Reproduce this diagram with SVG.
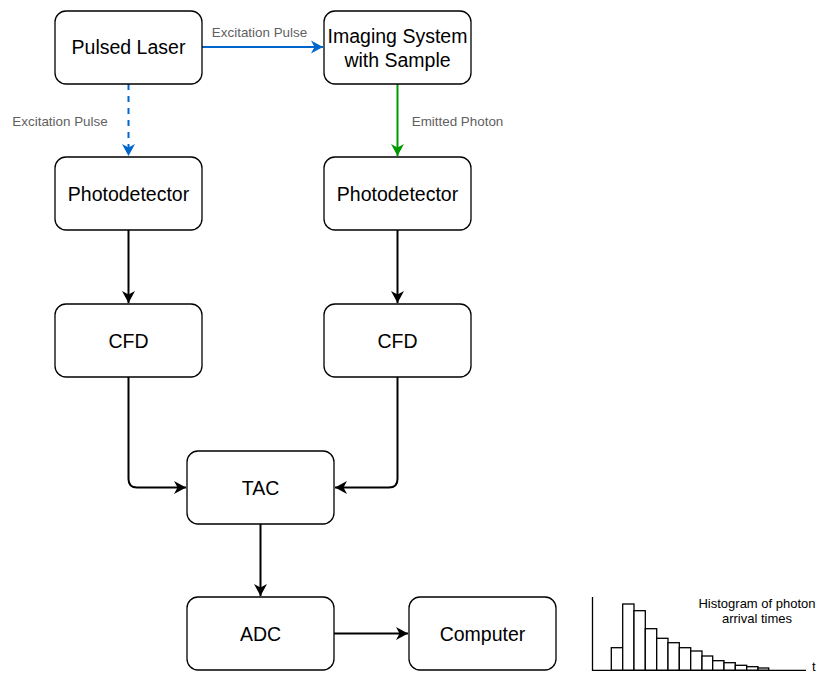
<svg xmlns="http://www.w3.org/2000/svg" width="819" height="673" viewBox="0 0 819 673">
<style>
.box{fill:#fff;stroke:#000;stroke-width:1.3}
.t{font-family:"Liberation Sans",Arial,sans-serif;font-size:19.5px;fill:#000;text-anchor:middle}
.lbl{font-family:"Liberation Sans",Arial,sans-serif;font-size:13.4px;fill:#5f5f5f;text-anchor:middle}
.ht{font-family:"Liberation Sans",Arial,sans-serif;font-size:13px;fill:#000;text-anchor:middle}
.c{fill:none;stroke-width:2}
.bar{fill:#fff;stroke:#000;stroke-width:1.3}
</style>
<defs>
<marker id="ab" markerUnits="userSpaceOnUse" markerWidth="14" markerHeight="14" refX="12" refY="6.5" orient="auto" viewBox="0 0 14 13"><path d="M0,0 L12,6.5 L0,13 L3.5,6.5 Z" fill="#000"/></marker>
<marker id="abl" markerUnits="userSpaceOnUse" markerWidth="14" markerHeight="14" refX="12" refY="6.5" orient="auto" viewBox="0 0 14 13"><path d="M0,0 L12,6.5 L0,13 L3.5,6.5 Z" fill="#0066CC"/></marker>
<marker id="agr" markerUnits="userSpaceOnUse" markerWidth="14" markerHeight="14" refX="12" refY="6.5" orient="auto" viewBox="0 0 14 13"><path d="M0,0 L12,6.5 L0,13 L3.5,6.5 Z" fill="#009900"/></marker>
</defs>

<g id="connectors">
<path class="c" d="M202,47 H323" stroke="#0066CC" marker-end="url(#abl)"/>
<path class="c" d="M128.5,84 V156" stroke="#0066CC" stroke-dasharray="6 6" marker-end="url(#abl)"/>
<path class="c" d="M397.5,84 V156" stroke="#009900" marker-end="url(#agr)"/>
<path class="c" d="M128.5,230 V303" stroke="#000" marker-end="url(#ab)"/>
<path class="c" d="M397.5,230 V303" stroke="#000" marker-end="url(#ab)"/>
<path class="c" d="M128.5,377 V479 Q128.5,487.5 137,487.5 H186" stroke="#000" marker-end="url(#ab)"/>
<path class="c" d="M397.5,377 V479 Q397.5,487.5 389,487.5 H335" stroke="#000" marker-end="url(#ab)"/>
<path class="c" d="M260.5,524 V596" stroke="#000" marker-end="url(#ab)"/>
<path class="c" d="M334,633.5 H408" stroke="#000" marker-end="url(#ab)"/>
<text class="lbl" x="259.5" y="37">Excitation Pulse</text>
<text class="lbl" x="60" y="126">Excitation Pulse</text>
<text class="lbl" x="457.5" y="126">Emitted Photon</text>
</g>

<g id="pulsed-laser"><rect class="box" x="55" y="11" width="147" height="73" rx="11"/><text class="t" x="128.5" y="54">Pulsed Laser</text></g>
<g id="imaging-system"><rect class="box" x="324" y="11" width="147" height="73" rx="11"/><text class="t" x="397.5" y="43">Imaging System</text><text class="t" x="397.5" y="66.5">with Sample</text></g>
<g id="photodetector-1"><rect class="box" x="55" y="157" width="147" height="73" rx="11"/><text class="t" x="128.5" y="200.5">Photodetector</text></g>
<g id="photodetector-2"><rect class="box" x="324" y="157" width="147" height="73" rx="11"/><text class="t" x="397.5" y="200.5">Photodetector</text></g>
<g id="cfd-1"><rect class="box" x="55" y="304" width="147" height="73" rx="11"/><text class="t" x="128.5" y="347.5">CFD</text></g>
<g id="cfd-2"><rect class="box" x="324" y="304" width="147" height="73" rx="11"/><text class="t" x="397.5" y="347.5">CFD</text></g>
<g id="tac"><rect class="box" x="187" y="451" width="147" height="73" rx="11"/><text class="t" x="260.5" y="494.5">TAC</text></g>
<g id="adc"><rect class="box" x="187" y="597" width="147" height="73" rx="11"/><text class="t" x="260.5" y="640.5">ADC</text></g>
<g id="computer"><rect class="box" x="409" y="597" width="147" height="73" rx="11"/><text class="t" x="482.5" y="640.5">Computer</text></g>

<g id="histogram">
<rect class="bar" x="611.3" y="647.7" width="11.4" height="22.6"/>
<rect class="bar" x="622.7" y="604" width="11.3" height="66.3"/>
<rect class="bar" x="634" y="610.7" width="11.3" height="59.6"/>
<rect class="bar" x="645.3" y="628.7" width="11.4" height="41.6"/>
<rect class="bar" x="656.7" y="638.3" width="11.3" height="32"/>
<rect class="bar" x="668" y="642.7" width="11.3" height="27.6"/>
<rect class="bar" x="679.3" y="647.7" width="11.4" height="22.6"/>
<rect class="bar" x="690.7" y="651" width="11.3" height="19.3"/>
<rect class="bar" x="702" y="656" width="10.7" height="14.3"/>
<rect class="bar" x="712.7" y="660.7" width="11.3" height="9.6"/>
<rect class="bar" x="724" y="662.7" width="11.3" height="7.6"/>
<rect class="bar" x="735.3" y="665.3" width="11.4" height="5"/>
<rect class="bar" x="746.7" y="666.7" width="11.3" height="3.6"/>
<rect class="bar" x="758" y="668" width="10.7" height="2.3"/>
<path d="M592.5,597 V670.3 H806" fill="none" stroke="#000" stroke-width="1.3"/>
<text class="ht" x="757" y="608">Histogram of photon</text>
<text class="ht" x="757" y="623">arrival times</text>
<text class="ht" x="812" y="671" text-anchor="start" style="text-anchor:start">t</text>
</g>
</svg>
